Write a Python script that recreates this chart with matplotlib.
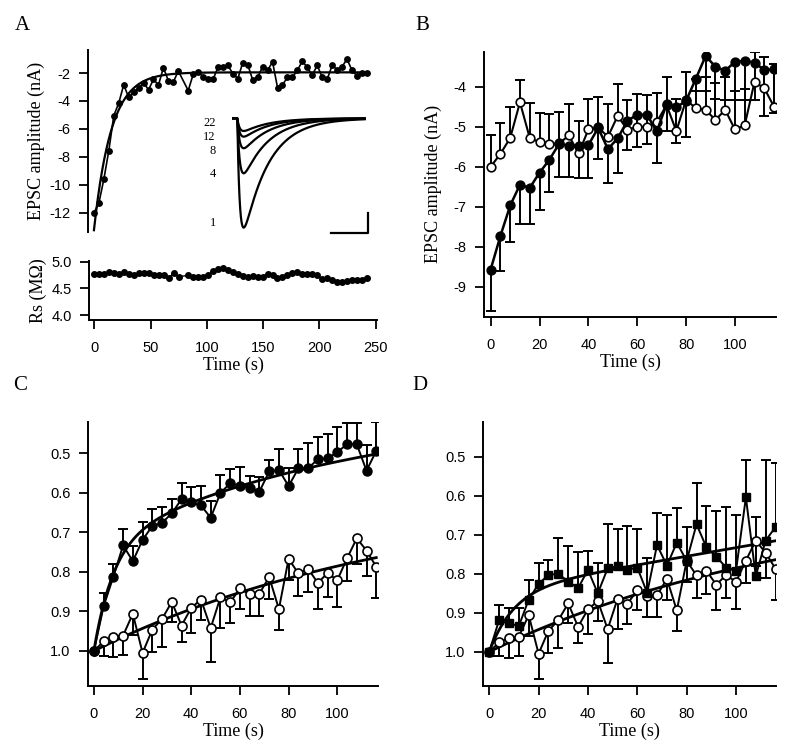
import numpy as np
import matplotlib
matplotlib.use('Agg')
import matplotlib.pyplot as plt

plt.rcParams['font.family'] = ['Liberation Sans', 'DejaVu Sans']
plt.rcParams['axes.unicode_minus'] = False
SERIF = ['Liberation Serif', 'DejaVu Serif']

# ---- panel A: EPSC amplitude and Rs during the train (one sample skipped at index 18)
a_time = np.delete(np.arange(56) * 4.4, 18)
a_epsc = [-12.0, -11.3, -9.6, -7.55, -5.05, -4.15, -2.84, -3.74, -3.34, -3.1,
          -2.69, -3.2, -2.45, -2.86, -1.62, -2.55, -2.65, -1.85,
          -3.25, -2.1, -1.95, -2.25, -2.45, -2.45, -1.6, -1.6, -1.45, -2.05,
          -2.4, -1.25, -1.4, -2.5, -2.3, -1.55, -1.8, -1.2, -3.05, -2.85,
          -2.3, -2.3, -1.8, -1.15, -1.6, -2.15, -1.45, -2.3, -2.45, -1.45,
          -1.75, -1.55, -1.0, -1.8, -2.2, -2.0, -2.0]
a_rs = [4.76, 4.76, 4.76, 4.80, 4.78, 4.76, 4.80, 4.76, 4.74, 4.79, 4.79, 4.78,
        4.75, 4.74, 4.74, 4.69, 4.78, 4.72,
        4.74, 4.71, 4.72, 4.72, 4.74, 4.83, 4.86, 4.88, 4.84, 4.81, 4.77, 4.73,
        4.72, 4.73, 4.71, 4.72, 4.77, 4.74, 4.69, 4.72, 4.74, 4.78, 4.80, 4.77,
        4.76, 4.76, 4.74, 4.68, 4.70, 4.65, 4.61, 4.61, 4.63, 4.65, 4.65, 4.65,
        4.69]
a_fit = dict(plateau=-1.95, amp=-11.3, tau=15.3)

# inset: averaged EPSCs for sweeps 1, 4, 8, 12, 22 (relative peak amplitude)
inset_sweeps = ['1', '4', '8', '12', '22']
inset_amps = [1.0, 0.503, 0.274, 0.168, 0.116]
inset_label_y = [-104.7, -55.7, -32.4, -18.7, -4.7]

# ---- panels B-D: 4 s sampling
t4 = np.arange(30) * 4.0

b_filled = [-8.57, -7.73, -6.97, -6.45, -6.53, -6.15, -5.83, -5.43, -5.48, -5.48,
            -5.46, -5.03, -5.56, -5.29, -4.85, -4.7, -4.7, -5.12, -4.44, -4.52,
            -4.35, -3.8, -3.23, -3.5, -3.6, -3.38, -3.35, -3.4, -3.58, -3.57]
b_filled_low = [-9.6, -8.62, -7.89, -7.42, -7.43, -7.08, -6.64, -6.27, -6.25, -6.29,
                -6.28, -5.81, -6.4, -6.15, -5.58, -5.52, -5.44, -5.9, -5.12, -5.4,
                -5.27, -4.12, -4.12, -4.3, -4.33, -4.33, -4.33, -4.33, -4.73, -4.65]
b_open = [-6.0, -5.68, -5.28, -4.39, -5.28, -5.39, -5.44, -5.42, -5.22, -5.67,
          -5.07, -5.02, -5.25, -4.73, -5.08, -5.0, -5.0, -4.88, -4.46, -5.11,
          -4.33, -4.54, -4.58, -4.83, -4.58, -5.07, -4.96, -3.88, -4.04, -4.5]
b_open_high = [-5.22, -4.9, -4.52, -3.83, -4.42, -4.67, -4.69, -4.64, -4.44, -4.86,
               -4.32, -4.25, -4.43, -3.93, -4.33, -4.19, -4.21, -4.15, -3.75, -4.32,
               -3.63, -3.82, -3.75, -3.92, -3.75, -4.12, -4.05, -3.13, -3.25, -3.43]

c_filled = [1.0, 0.887, 0.812, 0.733, 0.773, 0.719, 0.684, 0.676, 0.652, 0.616,
            0.624, 0.632, 0.663, 0.60, 0.576, 0.582, 0.587, 0.597, 0.546, 0.542,
            0.583, 0.538, 0.538, 0.515, 0.513, 0.497, 0.477, 0.477, 0.544, 0.494]
c_filled_high = [1.0, 0.853, 0.78, 0.692, 0.735, 0.675, 0.642, 0.635, 0.616, 0.574,
                 0.586, 0.583, 0.62, 0.555, 0.54, 0.535, 0.557, 0.559, 0.517, 0.49,
                 0.538, 0.49, 0.473, 0.458, 0.45, 0.434, 0.424, 0.424, 0.479, 0.42]
# open circles (control), shared by C and D
c_open = [1.0, 0.976, 0.965, 0.961, 0.906, 1.005, 0.946, 0.919, 0.876, 0.936,
          0.891, 0.87, 0.942, 0.864, 0.877, 0.842, 0.857, 0.855, 0.813, 0.894,
          0.767, 0.804, 0.792, 0.828, 0.803, 0.821, 0.766, 0.715, 0.746, 0.787]
c_open_low = [1.0, 1.012, 1.016, 1.011, 0.959, 1.07, 1.003, 0.99, 0.927, 0.978,
              0.954, 0.921, 1.028, 0.942, 0.929, 0.893, 0.912, 0.912, 0.868, 0.948,
              0.82, 0.862, 0.851, 0.893, 0.863, 0.89, 0.824, 0.78, 0.811, 0.866]

d_square = [1.0, 0.919, 0.927, 0.934, 0.866, 0.826, 0.803, 0.80, 0.82, 0.837,
            0.79, 0.85, 0.786, 0.78, 0.79, 0.784, 0.849, 0.726, 0.779, 0.72,
            0.767, 0.673, 0.732, 0.756, 0.784, 0.792, 0.604, 0.806, 0.715, 0.68]
d_square_high = [1.0, 0.881, 0.887, 0.889, 0.816, 0.772, 0.765, 0.708, 0.728, 0.745,
                 0.742, 0.772, 0.673, 0.686, 0.677, 0.686, 0.76, 0.644, 0.65, 0.632,
                 0.681, 0.567, 0.626, 0.639, 0.63, 0.648, 0.507, 0.654, 0.507, 0.515]

# fitted curves
c_fit_filled = dict(a1=0.27, tau1=8.0, a2=0.35, tau2=110.0)
open_fit = dict(a=0.40, tau=130.0)
d_fit_square = dict(a=0.157, tau=10.0, slope=0.0011)

W, H = 800, 751
fig = plt.figure(figsize=(W / 100, H / 100), dpi=100)


def axes_px(left, top, right, bottom):
    return fig.add_axes([left / W, 1 - bottom / H, (right - left) / W, (bottom - top) / H])


def style(ax, bottom=True):
    for s in ['top', 'right']:
        ax.spines[s].set_visible(False)
    ax.spines['left'].set_linewidth(1.4)
    ax.spines['bottom'].set_linewidth(1.4)
    if not bottom:
        ax.spines['bottom'].set_visible(False)
        ax.tick_params(axis='x', bottom=False, labelbottom=False)
    ax.tick_params(direction='out', length=6.8, width=1.3, labelsize=10.5)
    ax.tick_params(axis='y', pad=6)
    ax.tick_params(axis='x', pad=8.5)


def bars(ax, x, y0, y1, cap=6.8, lw=1.4):
    ax.vlines(x, y0, y1, color='k', lw=lw, zorder=2)
    ax.plot(x, y1, ls='none', marker='_', ms=cap, mew=lw, color='k', zorder=2)


lab = dict(fontfamily=SERIF, fontsize=13)

# ---- A top
axA = axes_px(88.3, 50, 377, 232)
style(axA, bottom=False)
tt = np.linspace(0, 242, 400)
axA.plot(tt, a_fit['plateau'] + a_fit['amp'] * np.exp(-tt / a_fit['tau']), 'k', lw=1.6)
axA.plot(a_time, a_epsc, 'k-', lw=1.2, marker='o', ms=3.9)
axA.set_xlim(-5, 251)
axA.set_ylim(-13.38, -0.35)
axA.set_yticks([-12, -10, -8, -6, -4, -2])
axA.set_ylabel('EPSC amplitude (nA)', labelpad=3, **lab)

# inset traces
axI = axes_px(231.7, 112, 368, 234)
axI.axis('off')
axI.set_xlim(0, 136.3)
axI.set_ylim(-115.7, 6.3)
ti = np.linspace(0, 133, 800)
s = np.clip(ti - 5.6, 0, None)
shape = np.exp(-s / 25.0) - np.exp(-s / 2.5)
shape = shape / shape.max()
for name, amp, ly in zip(inset_sweeps, inset_amps, inset_label_y):
    axI.plot(ti, -109.3 * amp * shape, 'k', lw=1.6)
    axI.text(-16, ly, name, ha='right', va='center', fontfamily=SERIF, fontsize=9,
             clip_on=False)
axI.plot([99.3, 136, 136], [-114.7, -114.7, -94.7], 'k', lw=1.6, clip_on=False)

# ---- A bottom (Rs)
axR = axes_px(89.3, 261, 376.7, 320)
style(axR)
axR.plot(a_time, a_rs, 'k-', lw=1.0, marker='o', ms=4.0)
axR.set_xlim(-4.5, 251)
axR.set_ylim(3.91, 5.01)
axR.set_yticks([4.0, 4.5, 5.0])
axR.set_yticklabels(['4.0', '4.5', '5.0'])
axR.set_xticks([0, 50, 100, 150, 200, 250])
axR.set_ylabel('Rs (M\u03a9)', labelpad=3, **lab)
axR.set_xlabel('Time (s)', labelpad=1, **lab)

# ---- B
axB = axes_px(484.3, 51.7, 776, 316.7)
style(axB)
bars(axB, t4, b_filled, b_filled_low)
bars(axB, t4, b_open, b_open_high)
axB.plot(t4, b_open, 'k-', lw=1.5, marker='o', ms=6.2, mfc='white', mew=1.2, zorder=3)
axB.plot(t4, b_filled, 'k-', lw=1.8, marker='o', ms=6.4, zorder=4)
axB.set_xlim(-2.6, 116.8)
axB.set_ylim(-9.75, -3.125)
axB.set_yticks([-9, -8, -7, -6, -5, -4])
axB.set_xticks([0, 20, 40, 60, 80, 100])
axB.set_ylabel('EPSC amplitude (nA)', labelpad=8, **lab)
axB.set_xlabel('Time (s)', labelpad=1, **lab)

tf = np.linspace(0, 116, 300)
open_curve = 1 - open_fit['a'] * (1 - np.exp(-tf / open_fit['tau']))

# ---- C
axC = axes_px(88.3, 421.7, 377.7, 685.7)
style(axC)
bars(axC, t4[1:], c_filled[1:], c_filled_high[1:])
bars(axC, t4[1:], c_open[1:], c_open_low[1:])
cf = c_fit_filled
axC.plot(tf, 1 - cf['a1'] * (1 - np.exp(-tf / cf['tau1'])) - cf['a2'] * (1 - np.exp(-tf / cf['tau2'])),
         'k', lw=2.0, zorder=3)
axC.plot(tf, open_curve, 'k', lw=2.0, zorder=3)
axC.plot(t4, c_open, 'k-', lw=1.4, marker='o', ms=6.5, mfc='white', mew=1.2, zorder=4)
axC.plot(t4, c_filled, 'k-', lw=1.4, marker='o', ms=6.5, zorder=5)
axC.set_xlim(-2.3, 116.6)
axC.set_ylim(1.088, 0.42)
axC.set_yticks([0.5, 0.6, 0.7, 0.8, 0.9, 1.0])
axC.set_yticklabels(['0.5', '0.6', '0.7', '0.8', '0.9', '1.0'])
axC.set_xticks([0, 20, 40, 60, 80, 100])
axC.set_xlabel('Time (s)', labelpad=1, **lab)

# ---- D
axD = axes_px(483.3, 421.7, 776, 685.7)
style(axD)
bars(axD, t4[1:], d_square[1:], d_square_high[1:])
bars(axD, t4[1:], c_open[1:], c_open_low[1:])
df = d_fit_square
axD.plot(tf, 1 - df['a'] * (1 - np.exp(-tf / df['tau'])) - df['slope'] * tf, 'k', lw=2.0, zorder=3)
axD.plot(tf, open_curve, 'k', lw=2.0, zorder=3)
axD.plot(t4, c_open, 'k-', lw=1.4, marker='o', ms=6.5, mfc='white', mew=1.2, zorder=4)
axD.plot(t4, d_square, 'k-', lw=1.4, marker='s', ms=6.0, zorder=5)
axD.set_xlim(-2.4, 116.2)
axD.set_ylim(1.087, 0.41)
axD.set_yticks([0.5, 0.6, 0.7, 0.8, 0.9, 1.0])
axD.set_yticklabels(['0.5', '0.6', '0.7', '0.8', '0.9', '1.0'])
axD.set_xticks([0, 20, 40, 60, 80, 100])
axD.set_xlabel('Time (s)', labelpad=1, **lab)

for letter, x, y in [('A', 22, 25), ('B', 422, 25), ('C', 20, 386), ('D', 420, 386)]:
    fig.text(x / W, 1 - y / H, letter, ha='center', va='center', fontfamily=SERIF, fontsize=15)

fig.savefig('out.png', dpi=100)
